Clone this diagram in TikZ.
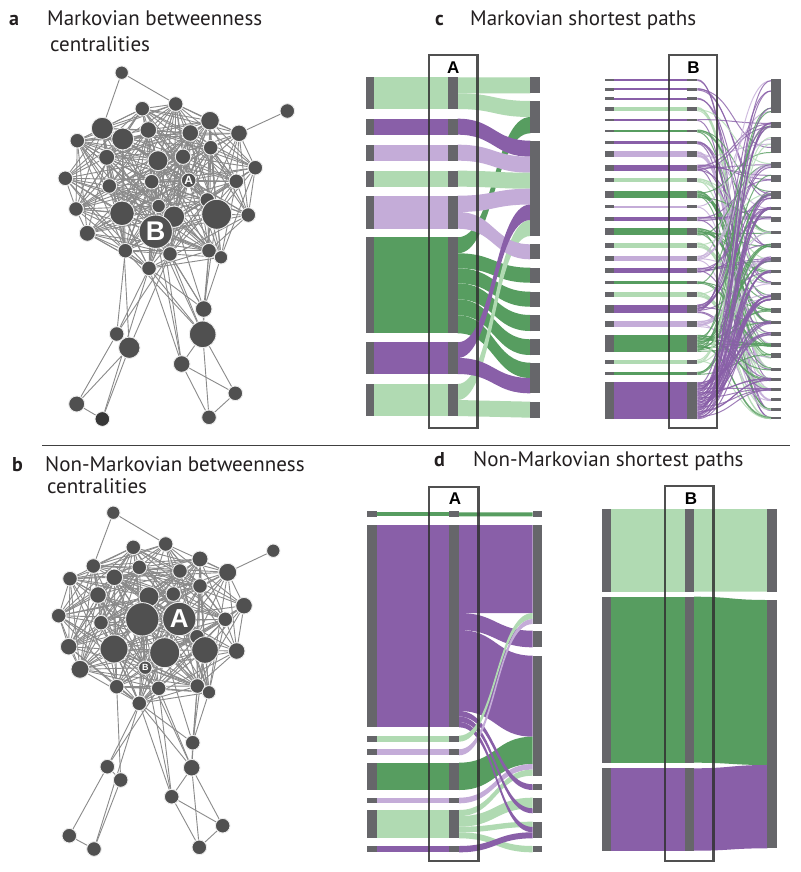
\documentclass[tikz,border=0pt]{standalone}
\usepackage{fontspec}
\setmainfont{PT Sans}
\newfontfamily\lab{Liberation Sans}
\pgfdeclarelayer{bg}
\pgfsetlayers{bg,main}
\definecolor{dg}{RGB}{87,157,96}
\definecolor{lg}{RGB}{176,218,178}
\definecolor{pu}{RGB}{137,95,168}
\definecolor{lp}{RGB}{196,172,216}
\definecolor{barc}{RGB}{102,102,106}
\definecolor{nd}{RGB}{80,80,80}
\definecolor{ndk}{RGB}{55,55,55}
\definecolor{ed}{RGB}{138,138,138}
\definecolor{bx}{RGB}{50,50,50}
\definecolor{tx}{RGB}{35,31,32}
\tikzset{
  gnode/.style={circle,fill=nd,draw=white!85!gray,line width=0.9pt,inner sep=0pt},
  gedge/.style={draw=ed,line width=0.9pt},
  boxst/.style={draw=bx,line width=2.4pt,opacity=0.85},
  ttl/.style={anchor=base west,inner sep=0pt,text=tx,font=\fontsize{21}{24}\selectfont},
  plab/.style={anchor=base west,inner sep=0pt,text=tx,font=\bfseries\fontsize{20}{22}\selectfont},
  boxlab/.style={inner sep=0pt,text=black,font=\lab\bfseries\fontsize{17}{17}\selectfont},
}
\newcommand\flw[7]{\fill[#7] (#1,#2) .. controls ({(#1+#4)/2},#2) and ({(#1+#4)/2},#5) .. (#4,#5) -- (#4,#6) .. controls ({(#1+#4)/2},#6) and ({(#1+#4)/2},#3) .. (#1,#3) -- cycle;}
\newcommand\rct[5]{\fill[#5] (#1,#2) rectangle (#3,#4);}
% panel a graph
\def\AX{{0,121.7,175.7,142.3,210,287.3,102.3,148.3,122.7,190.3,239,77.3,210.7,106.7,158,183,255.3,65.3,109.3,151.7,188.7,236.3,158.7,207.3,76,122,174,216.7,248.3,155.7,87.3,125.3,170,209,221,149,203.7,202.7,116.7,129.3,181.7,235.3,76.7,102.3,209}}
\def\AY{{0,72.7,104,108.7,120.7,111,128.3,130,139,133,133.3,140.7,147.7,157.3,160.7,156.7,167.7,178.3,186,181.7,180.3,181.3,206,200,209,213.3,216.7,214.3,215,231.7,233.3,250.7,254,250.7,257.3,268.3,309,334.3,334,347.7,364,393.3,404,419,417.3}}
\def\AR{{0,6.7,7.3,7.3,9.3,7.3,11,8.3,11,8.3,8.3,7.3,7.3,8,10,7.7,7.3,7.3,7.3,7.3,7.3,7.3,6.7,7.3,7.3,12.3,10.7,15,7.3,16.7,8,7.3,7.3,7.3,6.7,7.3,8.3,13.3,7.3,10.7,8.3,7.3,8,7.3,7.3}}
% panel b graph
\def\BX{{0,113.3,165.7,133.3,200,273.3,93.3,139.3,114.3,180,227.7,70,200,98,149,173.3,244,58.7,101,142.3,179.3,225.3,197,68.7,114,164.7,205,236.7,80,145.3,116.7,158.7,197.3,209,139.3,192.7,191.7,107.3,120.7,171.7,222.7,69.3,94,199.3}}
\def\BY{{0,512.7,544,547.3,559,550.7,566,567.3,577.3,571,572.3,578.7,586,595,596.7,594,605.7,615.7,622.7,619.3,619,619.3,636.7,646.7,649,652.7,650,651,669.3,667.7,686.7,688.3,686,692.3,703.3,742.7,767.7,766.7,780,796.7,825.7,835.7,849,847.3}}
\def\BR{{0,6.7,7.3,7.3,8,6.7,7.3,7.3,8.3,7.3,9,7.3,7.3,8.3,10,7.3,8.3,7.3,7.3,16.7,16.7,7.3,7.3,8.3,14,15,13.3,8.3,9,6.7,7.3,7.3,7.3,6.7,7.3,7.3,8.3,7.3,7.3,7.3,7.3,7.3,7.3,7.3}}
% c-B right bars
\def\RBt{{79,121.7,136.7,162.3,175,191,207,216.7,230.7,243.3,256.7,270,281.7,292.7,308.3,321,332.3,343.3,353.3,367.7,378.3,388.3,398.3,408.3,417.3}}
\def\RBb{{113.3,128.3,153.3,167.7,181.7,199,209.5,221.7,234,248.3,261.7,273.3,285,300,313.3,324,335.7,346.7,358.3,370.7,380.7,390.7,400.7,410.7,419}}
\begin{document}
\begin{tikzpicture}[x=1pt,y=-1pt]
\useasboundingbox (0,0) rectangle (800,872);
\begin{pgfonlayer}{bg}
\fill[white] (0,0) rectangle (800,872);
\end{pgfonlayer}
% ---------- titles ----------
\node[plab] (la) at (9,26) {a};
\node[ttl] (ta1) at (47,26) {Markovian betweenness};
\node[ttl] (ta2) at (50,52) {centralities};
\node[plab] (lb) at (12,471.5) {b};
\node[ttl] (tb1) at (45,471.5) {Non-Markovian betweenness};
\node[ttl] (tb2) at (47,493.5) {centralities};
\node[plab] (lc) at (435,26) {c};
\node[ttl] (tc) at (470,26) {Markovian shortest paths};
\node[plab] (ld) at (434,466.5) {d};
\node[ttl] (td) at (473,466.5) {Non-Markovian shortest paths};
\draw[line width=0.9pt,black!75] (42,445) -- (790,445);
% ---------- graph a ----------
\foreach \i in {1,...,44}{
  \pgfmathsetmacro\xx{\AX[\i]}\pgfmathsetmacro\yy{\AY[\i]}\pgfmathsetmacro\rr{2*\AR[\i]}
  \node[gnode,minimum size=\rr pt] (a\i) at (\xx,\yy) {};
}
\node[inner sep=0pt,text=white,font=\lab\bfseries\fontsize{27}{27}\selectfont] (aBl) at (a29) {B};
\node[inner sep=0pt,text=white,font=\lab\bfseries\fontsize{12}{12}\selectfont] (aAl) at (a20) {A};
\begin{pgfonlayer}{bg}
\foreach \i in {2,3,4,6,7,8,9,10,11,12,13,14,15,16,17,18,19,20,21,22,23,24,25,26,27,28,29,30,31,32,33,34,35}{
  \foreach \j in {2,...,35}{
    \ifnum\j>\i\relax\ifnum\j=5\relax\else
      \pgfmathsetmacro\dd{veclen(\AX[\i]-\AX[\j],\AY[\i]-\AY[\j])}
      \pgfmathtruncatemacro\hh{mod(\i*13+\j*\j*3+\i*\j,11)}
      \ifdim\dd pt<125pt\relax\ifnum\hh<8\relax \draw[gedge] (a\i) -- (a\j);\fi\fi
    \fi\fi
  }
}
\foreach \i/\j in {1/2,1/6,5/10,35/38,35/40,35/37,35/36,35/43,32/38,32/39,32/37,33/36,34/36,29/36,29/37,31/37,22/40,36/37,37/40,37/41,37/44,40/44,40/41,41/44,38/39,38/42,39/42,42/43,39/43,30/35,31/35,23/33,26/36,29/40,32/36,31/38,25/39,33/37,27/36}{
  \draw[gedge] (a\i) -- (a\j);
}
\end{pgfonlayer}
\fill[ndk] (a43) circle (6.6);
% ---------- graph b ----------
\foreach \i in {1,...,43}{
  \pgfmathsetmacro\xx{\BX[\i]}\pgfmathsetmacro\yy{\BY[\i]}\pgfmathsetmacro\rr{2*\BR[\i]}
  \node[gnode,minimum size=\rr pt] (b\i) at (\xx,\yy) {};
}
\node[inner sep=0pt,text=white,font=\lab\bfseries\fontsize{26}{26}\selectfont] (bAl) at (b20) {A};
\node[inner sep=0pt,text=white,font=\lab\bfseries\fontsize{9}{9}\selectfont] (bBl) at (b29) {B};
\begin{pgfonlayer}{bg}
\foreach \i in {2,3,4,6,7,8,9,10,11,12,13,14,15,16,17,18,19,20,21,22,23,24,25,26,27,28,29,30,31,32,33,34}{
  \foreach \j in {2,...,34}{
    \ifnum\j>\i\relax\ifnum\j=5\relax\else
      \pgfmathsetmacro\dd{veclen(\BX[\i]-\BX[\j],\BY[\i]-\BY[\j])}
      \pgfmathtruncatemacro\hh{mod(\i*\i*3+\j*17+\i*\j*2,11)}
      \ifdim\dd pt<125pt\relax\ifnum\hh<8\relax \draw[gedge] (b\i) -- (b\j);\fi\fi
    \fi\fi
  }
}
\foreach \i/\j in {1/2,1/6,5/10,34/37,34/39,34/36,34/35,34/42,31/37,31/36,32/35,33/35,35/36,29/39,37/38,37/41,38/42,41/42,36/39,39/40,39/43,36/40,36/43,40/43,30/34,31/34,32/36,25/35,29/36,30/38,31/39,26/35}{
  \draw[gedge] (b\i) -- (b\j);
}
\end{pgfonlayer}
% ---------- panel c, A ----------
\rct{374.3}{77.3}{448.3}{109}{lg}
\rct{374.3}{118.7}{448.3}{134.7}{pu}
\rct{374.3}{144.7}{448.3}{160.7}{lp}
\rct{374.3}{170.7}{448.3}{186.7}{lg}
\rct{374.3}{195.7}{448.3}{228.7}{lp}
\rct{374.3}{237.3}{448.3}{333.3}{dg}
\rct{374.3}{342.3}{448.3}{374}{pu}
\rct{374.3}{384}{448.3}{416}{lg}
\flw{457.7}{237.3}{253.3}{530.3}{117}{133.3}{dg}
\flw{457.7}{253.3}{268.3}{530.3}{267.7}{282.7}{dg}
\flw{457.7}{268.3}{283.3}{530.3}{291.7}{306.7}{dg}
\flw{457.7}{283.3}{299.3}{530.3}{315}{331}{dg}
\flw{457.7}{299.3}{315.3}{530.3}{339.3}{355}{dg}
\flw{457.7}{315.3}{333.3}{530.3}{362.7}{378}{dg}
\flw{457.7}{384}{400}{530.3}{220}{236}{lg}
\flw{457.7}{77.3}{93.3}{530.3}{77.3}{93.3}{lg}
\flw{457.7}{93.3}{109}{530.3}{101}{117}{lg}
\flw{457.7}{118.7}{134.7}{530.3}{140.7}{156.7}{pu}
\flw{457.7}{144.7}{160.7}{530.3}{156.7}{172.7}{lp}
\flw{457.7}{170.7}{186.7}{530.3}{172.7}{188.7}{lg}
\flw{457.7}{195.7}{212}{530.3}{188.7}{204.5}{lp}
\flw{457.7}{212}{228.7}{530.3}{244.3}{259.3}{lp}
\flw{457.7}{342.3}{358}{530.3}{204.5}{220}{pu}
\flw{457.7}{358}{374}{530.3}{378}{393.3}{pu}
\flw{457.7}{400}{416}{530.3}{401.7}{417.7}{lg}
\foreach \t/\b in {77.3/109,118.7/134.7,144.7/160.7,170.7/186.7,195.7/228.7,237.3/333.3,342.3/374,384/416}{
  \rct{366}{\t}{374.3}{\b}{barc}
  \rct{448.3}{\t}{457.7}{\b}{barc}
}
\foreach \t/\b in {77.3/93.3,101/133.3,140.7/236,244.3/259.3,267.7/282.7,291.7/306.7,315/331,339.3/355,362.7/393.3,401.7/417.7}{
  \rct{530.3}{\t}{540}{\b}{barc}
}
\draw[boxst] (429,55) rectangle (477.3,428);
\node[boxlab] (cA) at (453.3,68) {A};
% ---------- panel c, B ----------
\foreach \yc/\rh/\col [count=\i] in {80/1.7/pu,89.3/2.3/pu,98.7/1.7/pu,109/4/lg,120/1.7/pu,131/2.7/dg,142.7/2.7/pu,154.3/6/lp,167.7/6/pu,180.3/4/lg,194.3/7.3/dg,206.7/1.7/lp,219/4/pu,231.7/7.3/dg,245/5/lg,258.3/4.7/lp,270.3/4.7/pu,282.7/2.7/dg,294.3/5/lg,308.7/8.3/pu,324/6/lp,343.3/16.7/dg,361.7/4/lg,373.3/2.7/dg,400.7/36.7/pu}{
  \pgfmathsetmacro\ytop{\yc-\rh/2}
  \pgfmathsetmacro\ybot{\yc+\rh/2}
  \fill[\col] (614.3,\ytop) rectangle (687.3,\ybot);
  \pgfmathsetmacro\bh{max(\rh,2.8)}
  \fill[barc] (605,{\yc-\bh/2}) rectangle (614.3,{\yc+\bh/2});
  \fill[barc] (687.3,{\yc-\bh/2}) rectangle (697.3,{\yc+\bh/2});
  \pgfmathtruncatemacro\nl{max(2,round(\rh/0.75))}
  \foreach \k in {1,...,\nl}{
    \pgfmathsetmacro\ys{\ytop+(\k-0.5)*\rh/\nl}
    \pgfmathtruncatemacro\tb{mod(\i*7+\k*13+\k*\k*3,25)}
    \pgfmathsetmacro\fr{mod(\k*37+\i*11,10)/10+0.05}
    \pgfmathsetmacro\yt{\RBt[\tb]+\fr*(\RBb[\tb]-\RBt[\tb])}
    \draw[\col,line width=1pt,opacity=.8] (697.3,\ys) .. controls (734,\ys) and (734,\yt) .. (771,\yt);
  }
}
\foreach \t in {0,...,24}{
  \pgfmathsetmacro\ya{\RBt[\t]}\pgfmathsetmacro\yb{\RBb[\t]}
  \fill[barc] (771,\ya) rectangle (780.7,\yb);
}
\draw[boxst] (669,55) rectangle (716.7,428);
\node[boxlab] (cB) at (693.5,68) {B};
% ---------- panel d, A ----------
\rct{376.7}{512.3}{449.3}{516.3}{dg}
\rct{376.7}{525}{449.3}{727.3}{pu}
\rct{376.7}{735.7}{449.3}{741.7}{lg}
\rct{376.7}{749.3}{449.3}{755.3}{lp}
\rct{376.7}{762.7}{449.3}{790}{dg}
\rct{376.7}{797.7}{449.3}{803.3}{lp}
\rct{376.7}{810}{449.3}{838.3}{lg}
\rct{376.7}{846}{449.3}{852.3}{pu}
\flw{459}{512.3}{516.3}{532.7}{512.3}{516.3}{dg}
\flw{459}{525}{613}{532.7}{525}{613}{pu}
\flw{459}{613}{630}{532.7}{630.7}{647.3}{pu}
\flw{459}{630}{711}{532.7}{655.7}{736.7}{pu}
\flw{459}{762.7}{790}{532.7}{736.7}{764}{dg}
\flw{459}{797.7}{803.3}{532.7}{764}{769.6}{lp}
\flw{459}{810}{816.1}{532.7}{769.6}{775.7}{lg}
\flw{459}{816.1}{826.7}{532.7}{797.7}{808.3}{lg}
\flw{459}{826.7}{832.3}{532.7}{821.7}{827}{lg}
\flw{459}{832.3}{838.3}{532.7}{846}{852.3}{lg}
\flw{459}{711}{716.5}{532.7}{784.3}{790}{pu}
\flw{459}{716.5}{722}{532.7}{808.3}{813.3}{pu}
\flw{459}{722}{727.3}{532.7}{827}{832.3}{pu}
\flw{459}{735.7}{741.7}{532.7}{613}{619}{lg}
\flw{459}{749.3}{755.3}{532.7}{619}{624}{lp}
\flw{459}{846}{852.3}{532.7}{832.3}{838.3}{pu}
\foreach \t/\b in {511.3/517.3,525/727.3,735.7/741.7,749.3/755.3,762.7/790,797.7/803.3,810/838.3,846/852.3}{
  \rct{367.3}{\t}{376.7}{\b}{barc}
  \rct{449.3}{\t}{459}{\b}{barc}
}
\foreach \t/\b in {511.3/517.3,525/624,630.7/647.3,655.7/775.7,784.3/790,797.7/813.3,821.7/838.3,846/852.3}{
  \rct{532.7}{\t}{542.3}{\b}{barc}
}
\draw[boxst] (429,486.7) rectangle (478.3,860.7);
\node[boxlab] (dA) at (455,499) {A};
% ---------- panel d, B ----------
\rct{611}{509}{685}{591.7}{lg}
\rct{611}{596.7}{685}{762.7}{dg}
\rct{611}{768.3}{685}{850.7}{pu}
\flw{694}{509}{591.7}{767.3}{509}{591.7}{lg}
\flw{694}{596.7}{762.7}{767.3}{600}{765}{dg}
\flw{694}{768.3}{850.7}{767.3}{765}{848.3}{pu}
\foreach \t/\b in {509/591.7,596.7/762.7,768.3/850.7}{
  \rct{601.7}{\t}{611}{\b}{barc}
  \rct{685}{\t}{694}{\b}{barc}
}
\rct{767.3}{509}{777.3}{591.7}{barc}
\rct{767.3}{600}{777.3}{848.3}{barc}
\draw[boxst] (665,486) rectangle (713.3,860.7);
\node[boxlab] (dB) at (691,499) {B};
\end{tikzpicture}
\end{document}
